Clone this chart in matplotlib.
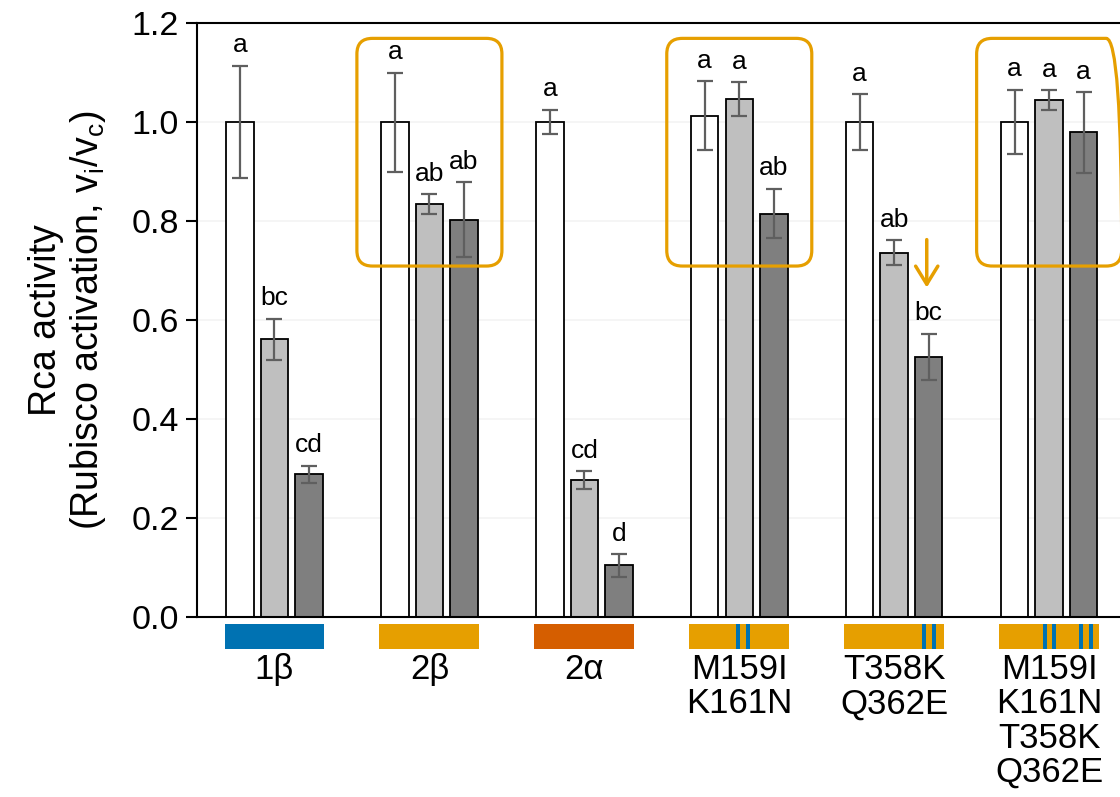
import matplotlib.pyplot as plt
import numpy as np
from matplotlib import patches

plt.rcParams["font.family"] = ["Liberation Sans", "DejaVu Sans"]

ORANGE = "#E69F00"
BLUE = "#0072B2"
VERMILLION = "#D55E00"

groups = ["1β", "2β", "2α", "M159I\nK161N", "T358K\nQ362E", "M159I\nK161N\nT358K\nQ362E"]
strip_colors = [BLUE, ORANGE, VERMILLION, ORANGE, ORANGE, ORANGE]
# positions of the substituted residues along each strip (fraction of strip width)
mutation_marks = [[], [], [], [0.49, 0.59], [0.80, 0.90], [0.46, 0.55, 0.82, 0.92]]

# three conditions per isoform: white, light grey, dark grey bars
means_white = [1.000, 1.000, 1.000, 1.013, 1.000, 1.000]
means_light = [0.561, 0.834, 0.276, 1.046, 0.736, 1.044]
means_dark = [0.288, 0.803, 0.104, 0.815, 0.525, 0.979]
err_white = [0.114, 0.100, 0.025, 0.070, 0.056, 0.065]
err_light = [0.042, 0.020, 0.018, 0.034, 0.025, 0.020]
err_dark = [0.018, 0.075, 0.023, 0.050, 0.047, 0.081]

letters_white = ["a", "a", "a", "a", "a", "a"]
letters_light = ["bc", "ab", "cd", "a", "ab", "a"]
letters_dark = ["cd", "ab", "d", "ab", "bc", "a"]

# groups whose three bars do not differ, outlined with a rounded box
boxed_groups = [1, 3, 5]

fig = plt.figure(figsize=(11.2, 7.97), dpi=100)
ax = fig.add_axes([0.1759, 0.2259, 0.830, 0.7452])

x = np.arange(len(groups))
offset = 0.223
width = 0.177
series = [
    (means_white, err_white, letters_white, "white", -offset),
    (means_light, err_light, letters_light, "#bfbfbf", 0.0),
    (means_dark, err_dark, letters_dark, "#7f7f7f", offset),
]

for means, errs, letters, color, dx in series:
    ax.bar(x + dx, means, width, color=color, edgecolor="black", linewidth=1.3, zorder=3)
    ax.errorbar(x + dx, means, yerr=errs, fmt="none", ecolor="#5f5f5f",
                elinewidth=1.6, capsize=6, capthick=1.6, zorder=4)
    for xi, m, e, lab in zip(x + dx, means, errs, letters):
        ax.text(xi, m + e + 0.027, lab, ha="center", va="baseline", fontsize=19, zorder=5)

ax.set_xlim(-0.5, 5.5)
ax.set_ylim(0, 1.2)
ax.set_yticks(np.arange(0, 1.21, 0.2))
ax.set_yticklabels([f"{v:.1f}" for v in np.arange(0, 1.21, 0.2)])
ax.set_xticks([])
ax.yaxis.grid(True, color="#f3f3f3", linewidth=1.2, zorder=0)
ax.set_axisbelow(True)
ax.tick_params(axis="y", direction="out", length=8, width=1.5, labelsize=24.5, pad=5)

for side in ["left", "bottom", "top", "right"]:
    ax.spines[side].set_linewidth(1.5)
    ax.spines[side].set_zorder(6)

ax.set_ylabel("Rca activity\n(Rubisco activation, $\\mathregular{v_i/v_c}$)",
              fontsize=27, linespacing=1.12, labelpad=17)

# rounded outlines around the unchanged groups
px_x = 155.0
px_y = 495.0
for g in boxed_groups:
    box = patches.FancyBboxPatch(
        (g - 0.468, 0.709), 0.936, 0.460,
        boxstyle="round,pad=0,rounding_size=0.1",
        mutation_aspect=px_x / px_y,
        facecolor="none", edgecolor=ORANGE, linewidth=2.3, zorder=7, clip_on=False,
    )
    ax.add_patch(box)

# arrow marking the drop in the T358K/Q362E dark bar
ax.annotate("", xy=(4.21, 0.660), xytext=(4.21, 0.768),
            arrowprops=dict(arrowstyle="->,head_length=0.65,head_width=0.4",
                            color=ORANGE, lw=2.5, mutation_scale=20))

# coloured isoform strips under the x axis
strip_w = 0.645
for xi, c, marks in zip(x, strip_colors, mutation_marks):
    left = xi - strip_w / 2
    ax.add_patch(patches.Rectangle((left, -0.065), strip_w, 0.05, facecolor=c,
                                   edgecolor="none", clip_on=False, zorder=3))
    for f in marks:
        ax.add_patch(patches.Rectangle((left + f * strip_w - 0.013, -0.065), 0.026, 0.05,
                                       facecolor=BLUE, edgecolor="none",
                                       clip_on=False, zorder=4))

for xi, lab in zip(x, groups):
    ax.text(xi, -0.073, lab, ha="center", va="top", fontsize=25, linespacing=1.05)

fig.savefig("out.png", dpi=100)
